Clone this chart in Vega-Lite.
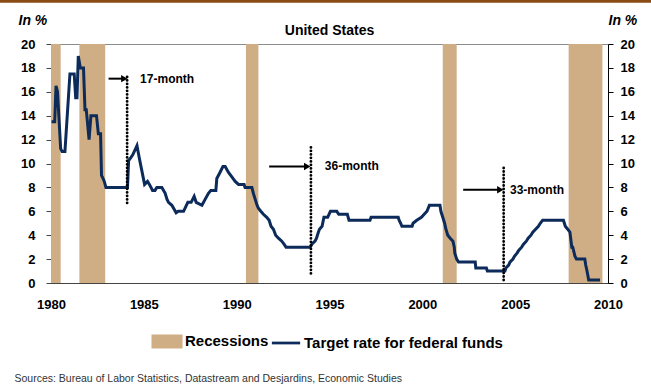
{
  "$schema": "https://vega.github.io/schema/vega-lite/v6.json",
  "width": 557,
  "height": 239,
  "autosize": "none",
  "padding": {"left": 51, "top": 44, "right": 43, "bottom": 103},
  "background": "white",
  "config": {
    "font": "Liberation Sans",
    "view": {"stroke": "#8c8c8c", "strokeWidth": 1},
    "axis": {"grid": false},
    "legend": {"padding": 0}
  },
  "title": {"text": "United States", "fontSize": 14, "fontWeight": "bold", "anchor": "middle", "frame": "group", "offset": 6, "dy": 45, "color": "black"},
  "datasets": {
    "recessions": [
      {"start": 1980.0, "end": 1980.52, "series": "Recessions"},
      {"start": 1981.53, "end": 1982.92, "series": "Recessions"},
      {"start": 1990.5, "end": 1991.17, "series": "Recessions"},
      {"start": 2001.1, "end": 2001.85, "series": "Recessions"},
      {"start": 2007.88, "end": 2009.7, "series": "Recessions"}
    ],
    "rate": [
      {"year": 1980.03, "rate": 13.5}, {"year": 1980.2, "rate": 13.5}, {"year": 1980.27, "rate": 16.5}, {"year": 1980.35, "rate": 16},
      {"year": 1980.52, "rate": 11.25}, {"year": 1980.6, "rate": 11}, {"year": 1980.75, "rate": 11}, {"year": 1981.02, "rate": 17.5},
      {"year": 1981.25, "rate": 17.5}, {"year": 1981.33, "rate": 15.5}, {"year": 1981.4, "rate": 15.5}, {"year": 1981.47, "rate": 19},
      {"year": 1981.58, "rate": 18}, {"year": 1981.75, "rate": 18}, {"year": 1981.83, "rate": 14.5}, {"year": 1981.9, "rate": 14.5},
      {"year": 1982.05, "rate": 12}, {"year": 1982.15, "rate": 14}, {"year": 1982.45, "rate": 14}, {"year": 1982.55, "rate": 12.5},
      {"year": 1982.67, "rate": 12.5}, {"year": 1982.72, "rate": 9}, {"year": 1982.8, "rate": 8.75}, {"year": 1982.87, "rate": 8.5},
      {"year": 1982.96, "rate": 8}, {"year": 1984.12, "rate": 8}, {"year": 1984.18, "rate": 10.25}, {"year": 1984.3, "rate": 10.5},
      {"year": 1984.41, "rate": 10.75}, {"year": 1984.63, "rate": 11.5}, {"year": 1984.75, "rate": 10.5}, {"year": 1985.04, "rate": 8.25},
      {"year": 1985.2, "rate": 8.5}, {"year": 1985.3, "rate": 8.25}, {"year": 1985.47, "rate": 7.75}, {"year": 1985.6, "rate": 7.75},
      {"year": 1985.7, "rate": 8}, {"year": 1985.97, "rate": 8}, {"year": 1986.15, "rate": 7.5}, {"year": 1986.25, "rate": 7},
      {"year": 1986.33, "rate": 6.75}, {"year": 1986.51, "rate": 6.5}, {"year": 1986.74, "rate": 5.875}, {"year": 1986.85, "rate": 6},
      {"year": 1987.14, "rate": 6}, {"year": 1987.37, "rate": 6.75}, {"year": 1987.55, "rate": 6.75}, {"year": 1987.71, "rate": 7.25},
      {"year": 1987.82, "rate": 6.75}, {"year": 1988.13, "rate": 6.5}, {"year": 1988.3, "rate": 7}, {"year": 1988.48, "rate": 7.5},
      {"year": 1988.61, "rate": 7.75}, {"year": 1988.88, "rate": 7.75}, {"year": 1988.93, "rate": 8.75}, {"year": 1989.1, "rate": 9.25},
      {"year": 1989.26, "rate": 9.75}, {"year": 1989.38, "rate": 9.75}, {"year": 1989.56, "rate": 9.25}, {"year": 1989.8, "rate": 8.75},
      {"year": 1989.92, "rate": 8.5}, {"year": 1990.1, "rate": 8.25}, {"year": 1990.4, "rate": 8.25}, {"year": 1990.45, "rate": 8},
      {"year": 1990.82, "rate": 8}, {"year": 1990.9, "rate": 7.5}, {"year": 1991.0, "rate": 7}, {"year": 1991.1, "rate": 6.5},
      {"year": 1991.17, "rate": 6.25}, {"year": 1991.3, "rate": 6}, {"year": 1991.44, "rate": 5.75}, {"year": 1991.62, "rate": 5.5},
      {"year": 1991.75, "rate": 5.25}, {"year": 1991.85, "rate": 4.75}, {"year": 1991.98, "rate": 4.5}, {"year": 1992.1, "rate": 4},
      {"year": 1992.25, "rate": 3.75}, {"year": 1992.43, "rate": 3.5}, {"year": 1992.55, "rate": 3.25}, {"year": 1992.66, "rate": 3},
      {"year": 1993.96, "rate": 3}, {"year": 1994.05, "rate": 3.25}, {"year": 1994.22, "rate": 3.5}, {"year": 1994.3, "rate": 3.75},
      {"year": 1994.4, "rate": 4.25}, {"year": 1994.46, "rate": 4.5}, {"year": 1994.6, "rate": 4.75}, {"year": 1994.7, "rate": 5.5},
      {"year": 1994.9, "rate": 5.5}, {"year": 1995.05, "rate": 6}, {"year": 1995.39, "rate": 6}, {"year": 1995.5, "rate": 5.75},
      {"year": 1995.96, "rate": 5.75}, {"year": 1996.05, "rate": 5.25}, {"year": 1997.18, "rate": 5.25}, {"year": 1997.24, "rate": 5.5},
      {"year": 1998.7, "rate": 5.5}, {"year": 1998.75, "rate": 5.25}, {"year": 1998.83, "rate": 5}, {"year": 1998.9, "rate": 4.75},
      {"year": 1999.45, "rate": 4.75}, {"year": 1999.5, "rate": 5}, {"year": 1999.7, "rate": 5.25}, {"year": 1999.95, "rate": 5.5},
      {"year": 2000.1, "rate": 5.75}, {"year": 2000.25, "rate": 6}, {"year": 2000.38, "rate": 6.5}, {"year": 2000.95, "rate": 6.5},
      {"year": 2001.0, "rate": 6}, {"year": 2001.1, "rate": 5.5}, {"year": 2001.2, "rate": 5}, {"year": 2001.27, "rate": 4.5},
      {"year": 2001.37, "rate": 4}, {"year": 2001.5, "rate": 3.75}, {"year": 2001.65, "rate": 3.5}, {"year": 2001.72, "rate": 3},
      {"year": 2001.75, "rate": 2.5}, {"year": 2001.85, "rate": 2}, {"year": 2001.95, "rate": 1.75}, {"year": 2002.85, "rate": 1.75},
      {"year": 2002.88, "rate": 1.25}, {"year": 2003.45, "rate": 1.25}, {"year": 2003.5, "rate": 1}, {"year": 2004.45, "rate": 1},
      {"year": 2004.5, "rate": 1.25}, {"year": 2004.65, "rate": 1.5}, {"year": 2004.72, "rate": 1.75}, {"year": 2004.88, "rate": 2},
      {"year": 2004.97, "rate": 2.25}, {"year": 2005.1, "rate": 2.5}, {"year": 2005.2, "rate": 2.75}, {"year": 2005.35, "rate": 3},
      {"year": 2005.45, "rate": 3.25}, {"year": 2005.6, "rate": 3.5}, {"year": 2005.7, "rate": 3.75}, {"year": 2005.85, "rate": 4},
      {"year": 2005.95, "rate": 4.25}, {"year": 2006.1, "rate": 4.5}, {"year": 2006.25, "rate": 4.75}, {"year": 2006.35, "rate": 5},
      {"year": 2006.48, "rate": 5.25}, {"year": 2007.6, "rate": 5.25}, {"year": 2007.7, "rate": 4.75}, {"year": 2007.83, "rate": 4.5},
      {"year": 2007.95, "rate": 4.25}, {"year": 2008.05, "rate": 3}, {"year": 2008.1, "rate": 3}, {"year": 2008.22, "rate": 2.25},
      {"year": 2008.3, "rate": 2}, {"year": 2008.75, "rate": 2}, {"year": 2008.8, "rate": 1.5}, {"year": 2008.87, "rate": 1},
      {"year": 2008.96, "rate": 0.25}, {"year": 2009.57, "rate": 0.25}
    ],
    "notes": [
      {"xl": 1984.1, "ylo": 6.7, "yhi": 17.5, "xs": 1983.1, "xe": 1983.95, "ya": 17.1, "xt": 1984.8, "label": "17-month"},
      {"xl": 1994.0, "ylo": 0.8, "yhi": 11.5, "xs": 1991.75, "xe": 1993.8, "ya": 9.75, "xt": 1994.75, "label": "36-month"},
      {"xl": 2004.38, "ylo": 0.25, "yhi": 9.8, "xs": 2002.2, "xe": 2004.2, "ya": 7.8, "xt": 2004.72, "label": "33-month"}
    ]
  },
  "layer": [
    {
      "data": {"name": "recessions"},
      "mark": {"type": "rect"},
      "encoding": {
        "x": {"field": "start", "type": "quantitative", "scale": {"domain": [1980, 2010], "nice": false, "zero": false},
          "axis": {"values": [1980, 1985, 1990, 1995, 2000, 2005, 2010], "format": "d", "ticks": false, "domainColor": "#444444",
            "labelFontSize": 13, "labelFontWeight": "bold", "labelColor": "black", "labelPadding": 15, "labelFlush": false,
            "title": "Sources: Bureau of Labor Statistics, Datastream and Desjardins, Economic Studies",
            "titleX": -37, "titleY": 95, "titleAlign": "left", "titleBaseline": "middle", "titleFontSize": 10.5, "titleFontWeight": "normal", "titleColor": "#333333"}},
        "x2": {"field": "end"},
        "y": {"datum": 0, "type": "quantitative", "scale": {"domain": [0, 20], "nice": false},
          "axis": {"orient": "left", "values": [0, 2, 4, 6, 8, 10, 12, 14, 16, 18, 20], "domainColor": "#444444", "tickColor": "#444444", "tickSize": 5,
            "labelPadding": 11, "labelFontSize": 13, "labelFontWeight": "bold", "labelColor": "black",
            "title": "In %", "titleAngle": 0, "titleAlign": "left", "titleBaseline": "middle", "titleX": -33, "titleY": -24,
            "titleFontSize": 14, "titleFontWeight": "bold", "titleFontStyle": "italic", "titleColor": "black"}},
        "y2": {"datum": 20},
        "color": {"field": "series", "type": "nominal",
          "scale": {"domain": ["Recessions", "Target rate for federal funds"], "range": ["#CFAE85", "#0C2B5A"]},
          "legend": {"orient": "none", "legendX": 100, "legendY": 281, "direction": "horizontal", "title": null,
            "labelFontSize": 15, "labelFontWeight": "bold", "labelColor": "black", "labelOffset": 2, "columnPadding": -3,
            "labelLimit": 0, "symbolSize": 800, "symbolStrokeWidth": 2.75,
            "encode": {"symbols": {"update": {
              "shape": {"signal": "datum.value === 'Recessions' ? 'M-1,-0.4H1V0.4H-1Z' : 'M-1,0H1'"},
              "fill": {"signal": "datum.value === 'Recessions' ? '#CFAE85' : 'transparent'"},
              "stroke": {"signal": "datum.value === 'Recessions' ? 'transparent' : '#0C2B5A'"},
              "strokeWidth": {"value": 2.75},
              "opacity": {"value": 1}
            }}}}}
      }
    },
    {
      "data": {"name": "rate"},
      "transform": [{"calculate": "'Target rate for federal funds'", "as": "series"}],
      "mark": {"type": "line", "strokeWidth": 3, "strokeJoin": "miter"},
      "encoding": {
        "x": {"field": "year", "type": "quantitative", "scale": {"domain": [1980, 2010], "nice": false, "zero": false}},
        "y": {"field": "rate", "type": "quantitative", "scale": {"domain": [0, 20], "nice": false},
          "axis": {"orient": "right", "values": [0, 2, 4, 6, 8, 10, 12, 14, 16, 18, 20], "domainColor": "black", "tickColor": "black", "tickSize": 5,
            "labelPadding": 7, "labelFontSize": 13, "labelFontWeight": "bold", "labelColor": "black",
            "title": "In %", "titleAngle": 0, "titleAlign": "left", "titleBaseline": "middle", "titleX": 0, "titleY": -24,
            "titleFontSize": 14, "titleFontWeight": "bold", "titleFontStyle": "italic", "titleColor": "black"}},
        "color": {"field": "series", "type": "nominal"}
      }
    },
    {
      "data": {"name": "notes"},
      "mark": {"type": "rule", "strokeWidth": 2.8, "strokeCap": "round", "strokeDash": [0.1, 3.4], "color": "black"},
      "encoding": {
        "x": {"field": "xl", "type": "quantitative"},
        "y": {"field": "ylo", "type": "quantitative", "axis": null},
        "y2": {"field": "yhi"}
      }
    },
    {
      "data": {"name": "notes"},
      "mark": {"type": "rule", "strokeWidth": 2, "color": "black"},
      "encoding": {
        "x": {"field": "xs", "type": "quantitative"},
        "x2": {"field": "xe"},
        "y": {"field": "ya", "type": "quantitative", "axis": null}
      }
    },
    {
      "data": {"name": "notes"},
      "mark": {"type": "point", "shape": "triangle-right", "filled": true, "color": "black", "size": 55, "opacity": 1},
      "encoding": {
        "x": {"field": "xe", "type": "quantitative"},
        "y": {"field": "ya", "type": "quantitative", "axis": null}
      }
    },
    {
      "data": {"name": "notes"},
      "mark": {"type": "text", "align": "left", "baseline": "middle", "fontSize": 12, "fontWeight": "bold", "color": "black"},
      "encoding": {
        "x": {"field": "xt", "type": "quantitative"},
        "y": {"field": "ya", "type": "quantitative", "axis": null},
        "text": {"field": "label"}
      }
    },
    {
      "data": {"values": [{}]},
      "mark": {"type": "rule", "strokeWidth": 3.5, "color": "#8A4A14", "clip": false},
      "encoding": {
        "x": {"datum": 1977.2, "type": "quantitative"},
        "x2": {"datum": 2012.5},
        "y": {"datum": 23.6, "type": "quantitative", "axis": null}
      }
    }
  ],
  "resolve": {"axis": {"y": "independent"}}
}
